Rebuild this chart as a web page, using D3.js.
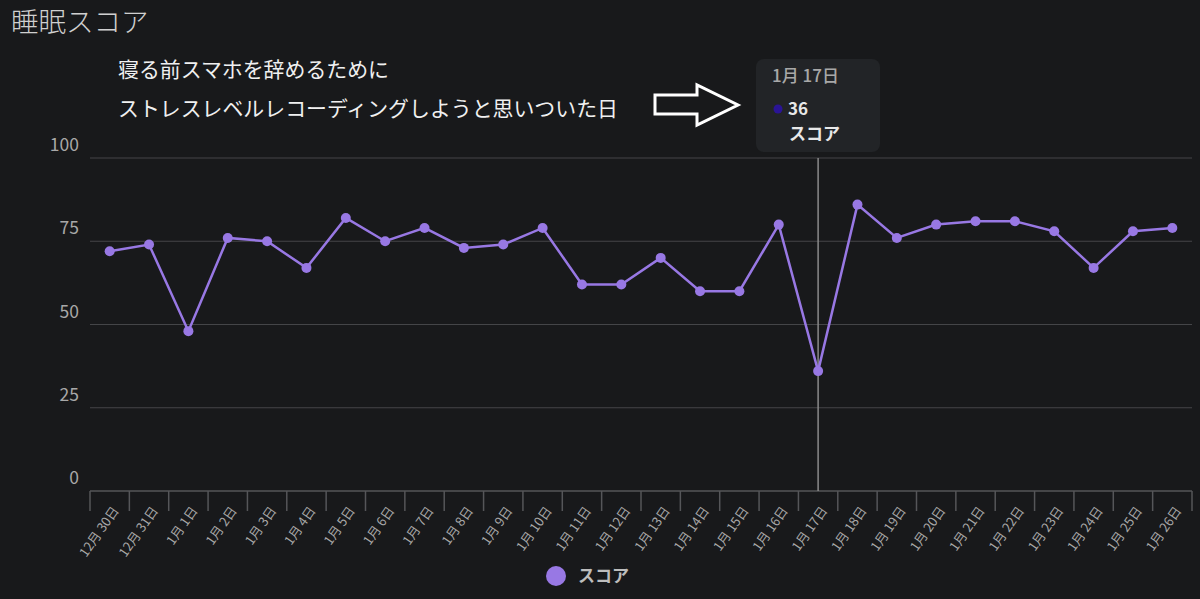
<!DOCTYPE html>
<html>
<head>
<meta charset="utf-8">
<script src="https://cdn.jsdelivr.net/npm/d3@7"></script>
<style>
  html, body { margin: 0; padding: 0; background: #18191b; }
  text { font-family: "Noto Sans CJK JP", "Noto Sans", sans-serif; }
</style>
</head>
<body>
<div id="container"></div>
<script>

// Data
const dates = ["12月 30日", "12月 31日", "1月 1日", "1月 2日", "1月 3日", "1月 4日", "1月 5日",
  "1月 6日", "1月 7日", "1月 8日", "1月 9日", "1月 10日", "1月 11日", "1月 12日", "1月 13日",
  "1月 14日", "1月 15日", "1月 16日", "1月 17日", "1月 18日", "1月 19日", "1月 20日",
  "1月 21日", "1月 22日", "1月 23日", "1月 24日", "1月 25日", "1月 26日"];
const scores = [72, 74, 48, 76, 75, 67, 82, 75, 79, 73, 74, 79, 62, 62, 70, 60, 60, 80,
  36, 86, 76, 80, 81, 81, 78, 67, 78, 79];
const yTicks = [0, 25, 50, 75, 100];
const seriesName = "スコア";
const highlight = "1月 17日";

const width = 1200;
const height = 599;

const marginTop = 158;
const marginRight = 8;
const marginBottom = 108;
const marginLeft = 90;

const lineColor = "#9878e4";

const x = d3.scaleBand()
    .domain(dates)
    .range([marginLeft, width - marginRight]);

const y = d3.scaleLinear()
    .domain([0, 100])
    .range([height - marginBottom, marginTop]);

const cx = d => x(d) + x.bandwidth() / 2;

const svg = d3.create("svg")
    .attr("width", width)
    .attr("height", height)
    .style("background", "#18191b");

container.append(svg.node());

// Title
svg.append("text")
    .attr("x", 11)
    .attr("y", 32)
    .attr("fill", "#d0d0d0")
    .attr("font-size", 27.5)
    .attr("font-weight", 300)
    .text("睡眠スコア");

// Grid lines and y labels
svg.append("g")
  .selectAll("line")
  .data(yTicks.filter(t => t > 0))
  .join("line")
    .attr("x1", marginLeft)
    .attr("x2", width - marginRight)
    .attr("y1", d => y(d))
    .attr("y2", d => y(d))
    .attr("stroke", "#444548")
    .attr("stroke-width", 1.2);

svg.append("g")
  .selectAll("text")
  .data(yTicks)
  .join("text")
    .attr("x", 79)
    .attr("y", d => y(d) - 7)
    .attr("text-anchor", "end")
    .attr("fill", "#a8a8a8")
    .attr("font-size", 17.5)
    .text(d => d);

// x-axis
const xAxis = svg.append("g")
    .attr("transform", `translate(0,${y(0)})`);

xAxis.append("line")
    .attr("x1", marginLeft)
    .attr("x2", width - marginRight)
    .attr("stroke", "#555659")
    .attr("stroke-width", 1.5);

xAxis.selectAll(".tick")
  .data(dates.concat([null]))
  .join("line")
    .attr("x1", (d, i) => marginLeft + i * x.bandwidth())
    .attr("x2", (d, i) => marginLeft + i * x.bandwidth())
    .attr("y1", 0)
    .attr("y2", 20)
    .attr("stroke", "#555659")
    .attr("stroke-width", 1.5);

xAxis.selectAll("text")
  .data(dates)
  .join("text")
    .attr("transform", d => `translate(${cx(d) + 6},${17}) rotate(-55)`)
    .attr("text-anchor", "end")
    .attr("dy", "0.35em")
    .attr("fill", "#a8a8a8")
    .attr("font-size", 13)
    .text(d => d);

// Crosshair on the highlighted day
svg.append("line")
    .attr("x1", cx(highlight))
    .attr("x2", cx(highlight))
    .attr("y1", y(100))
    .attr("y2", y(0))
    .attr("stroke", "#8a8a8a")
    .attr("stroke-width", 1.5);

// Line and points
const line = d3.line()
    .x((d, i) => cx(dates[i]))
    .y(d => y(d));

svg.append("path")
    .datum(scores)
    .attr("fill", "none")
    .attr("stroke", lineColor)
    .attr("stroke-width", 2.5)
    .attr("d", line);

svg.append("g")
  .selectAll("circle")
  .data(scores)
  .join("circle")
    .attr("cx", (d, i) => cx(dates[i]))
    .attr("cy", d => y(d))
    .attr("r", 5)
    .attr("fill", lineColor);

// Annotation
svg.append("text")
    .attr("x", 118)
    .attr("y", 77)
    .attr("fill", "#f0f0f0")
    .attr("font-size", 20.9)
    .text("寝る前スマホを辞めるために");

svg.append("text")
    .attr("x", 118)
    .attr("y", 116)
    .attr("fill", "#f0f0f0")
    .attr("font-size", 20.9)
    .text("ストレスレベルレコーディングしようと思いついた日");

// Arrow (outline)
svg.append("path")
    .attr("d", "M655,95 L697,95 L697,85 L738,105 L697,125 L697,114 L655,114 Z")
    .attr("fill", "none")
    .attr("stroke", "#ffffff")
    .attr("stroke-width", 3)
    .attr("stroke-linejoin", "miter");

// Tooltip
const hi = dates.indexOf(highlight);
const tip = svg.append("g");

tip.append("rect")
    .attr("x", 756)
    .attr("y", 59)
    .attr("width", 124)
    .attr("height", 93)
    .attr("rx", 8)
    .attr("fill", "#222427");

tip.append("text")
    .attr("x", 772)
    .attr("y", 82)
    .attr("fill", "#a8a8a8")
    .attr("font-size", 17)
    .attr("font-weight", 500)
    .text(highlight);

tip.append("circle")
    .attr("cx", 778)
    .attr("cy", 109)
    .attr("r", 4.5)
    .attr("fill", "#2a1496");

tip.append("text")
    .attr("x", 788)
    .attr("y", 115)
    .attr("fill", "#e8e8e8")
    .attr("font-size", 17)
    .attr("font-weight", "bold")
    .text(scores[hi]);

tip.append("text")
    .attr("x", 789)
    .attr("y", 140)
    .attr("fill", "#e8e8e8")
    .attr("font-size", 17)
    .attr("font-weight", "bold")
    .text(seriesName);

// Legend
svg.append("circle")
    .attr("cx", 556)
    .attr("cy", 576)
    .attr("r", 10)
    .attr("fill", lineColor);

svg.append("text")
    .attr("x", 578)
    .attr("y", 582)
    .attr("fill", "#bdbdbd")
    .attr("font-size", 17)
    .attr("font-weight", "bold")
    .text(seriesName);

</script>
</body>
</html>
